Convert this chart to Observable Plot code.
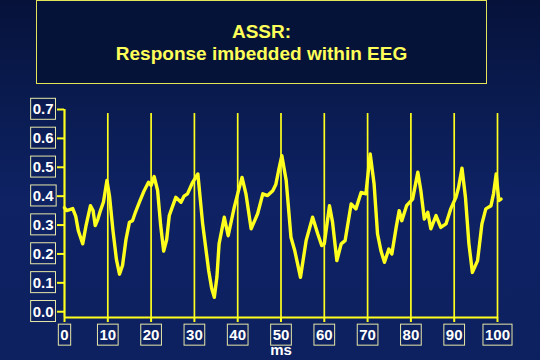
<!DOCTYPE html>
<html>
<head>
<meta charset="utf-8">
<script src="https://cdn.jsdelivr.net/npm/d3@7"></script>
<script src="https://cdn.jsdelivr.net/npm/@observablehq/plot@0.6"></script>
<style>
  html, body { margin: 0; padding: 0; width: 540px; height: 360px; overflow: hidden; }
  body { background: linear-gradient(to bottom, #06123a 0%, #0a1b50 28%, #0e2264 55%, #0d2160 100%); font-family: "Liberation Sans", Arial, sans-serif; }
  #head { position: relative; height: 95px; }
  #box { position: absolute; left: 36px; top: 0px; width: 449px; height: 82px; border: 1px solid #e4e45a; background: #061338; }
  #box div { position: absolute; left: 0; right: 0; text-align: center; color: #ffff5a; font-weight: bold; font-size: 19px; line-height: 22px; }
  #chart svg { display: block; overflow: visible; }
</style>
</head>
<body>
<div id="head"><div id="box"><div style="top:20px">ASSR:</div><div style="top:42px">Response imbedded within EEG</div></div></div>
<div id="chart"></div>
<script>
const timeMs = [0,0.5,1.9,2.6,3.2,4.2,5.0,6.0,6.6,7.1,7.7,8.3,9.0,9.8,10.4,11.2,12.0,12.7,13.4,14.2,15.0,15.7,16.4,17.3,18.4,19.4,20.0,20.7,21.5,22.2,22.9,23.6,24.2,24.6,25.7,26.9,27.6,28.4,29.6,30.8,31.9,33.3,34.0,34.6,35.2,35.7,36.9,37.8,39.2,40.2,41.0,41.9,43.1,44.6,45.8,46.9,48.1,48.8,49.6,50.2,51.2,52.3,53.2,54.5,55.8,57.3,58.5,59.4,60.0,61.2,61.9,62.9,63.9,64.8,66.2,67.3,68.5,69.6,70.6,71.5,72.3,73.1,73.9,74.9,75.6,76.6,77.3,77.9,79.0,80.4,81.6,82.3,83.1,83.9,84.6,85.8,86.9,88.1,89.2,90.4,91.0,91.8,92.6,93.4,94.2,95.4,96.4,97.3,98.5,99.1,99.7,100.3,100.8];
const amplitude = [0.36,0.35,0.357,0.33,0.28,0.235,0.30,0.367,0.35,0.298,0.32,0.35,0.38,0.454,0.40,0.28,0.18,0.13,0.16,0.25,0.31,0.315,0.345,0.379,0.419,0.448,0.437,0.468,0.42,0.30,0.21,0.25,0.333,0.35,0.396,0.379,0.40,0.408,0.448,0.477,0.305,0.142,0.08,0.05,0.12,0.235,0.327,0.263,0.361,0.42,0.465,0.408,0.287,0.339,0.408,0.402,0.419,0.44,0.50,0.54,0.454,0.258,0.21,0.119,0.246,0.327,0.269,0.229,0.235,0.367,0.31,0.177,0.235,0.246,0.373,0.356,0.413,0.408,0.546,0.442,0.269,0.21,0.171,0.217,0.2,0.292,0.35,0.315,0.367,0.39,0.483,0.419,0.321,0.344,0.287,0.333,0.292,0.304,0.356,0.396,0.43,0.497,0.396,0.235,0.136,0.177,0.304,0.356,0.367,0.41,0.477,0.385,0.39];
const xTicks = [0,10,20,30,40,50,60,70,80,90,100];
const gridX = [10,20,30,40,50,60,70,80,90,100];
const yTicks = [0,0.1,0.2,0.3,0.4,0.5,0.6,0.7];
const xUnit = "ms";

const data = timeMs.map((t, i) => ({t, v: amplitude[i]}));
const YEL = "#ffff1e";
const base = -0.02;

const plot = Plot.plot({
  width: 540,
  height: 265,
  marginLeft: 64,
  marginRight: 43,
  marginTop: 14,
  marginBottom: 43,
  style: {background: "transparent", color: "white", overflow: "visible", fontFamily: "'Liberation Sans', Arial, sans-serif"},
  x: {domain: [0, 100]},
  y: {domain: [base, 0.7]},
  marks: [
    Plot.ruleX(gridX, {y1: base, y2: 0.686, stroke: YEL, strokeWidth: 1.7}),
    Plot.ruleX([0], {y1: base, y2: 0.7, stroke: YEL, strokeWidth: 2.2}),
    Plot.ruleY([base], {x1: 0, x2: 100, stroke: YEL, strokeWidth: 2.2}),
    Plot.axisY({ticks: yTicks, tickSize: 7, tickPadding: 4, stroke: YEL, strokeWidth: 2, fill: "white", fontSize: 15, fontWeight: "bold", tickFormat: d3.format(".1f"), label: null}),
    Plot.axisX({ticks: xTicks, anchor: "bottom", tickSize: 5, tickPadding: 7, stroke: YEL, strokeWidth: 2, fill: "white", fontSize: 15, fontWeight: "bold", tickFormat: d3.format("d"), label: null}),
    Plot.text([xUnit], {x: 50, frameAnchor: "bottom", lineAnchor: "bottom", dy: 37, text: d => d, fill: "white", fontSize: 15, fontWeight: "bold", ariaLabel: "unit label"}),
    Plot.line(data, {x: "t", y: "v", stroke: YEL, strokeWidth: 3.4, strokeLinejoin: "round"})
  ]
});
document.getElementById("chart").append(plot);

// draw boxes around labels
const svg = d3.select(plot);
svg.selectAll("g[aria-label='y-axis tick label'] text, g[aria-label='x-axis tick label'] text, g[aria-label='unit label'] text").each(function() {
  const b = this.getBBox();
  const px = 2, py = 2;
  d3.select(this.parentNode).insert("rect", () => this)
    .attr("transform", this.getAttribute("transform"))
    .attr("x", b.x - px).attr("y", b.y - py)
    .attr("width", b.width + 2 * px).attr("height", b.height + 2 * py)
    .attr("fill", "none").attr("stroke", "#e8e8a8").attr("stroke-width", 1);
});
</script>
</body>
</html>
